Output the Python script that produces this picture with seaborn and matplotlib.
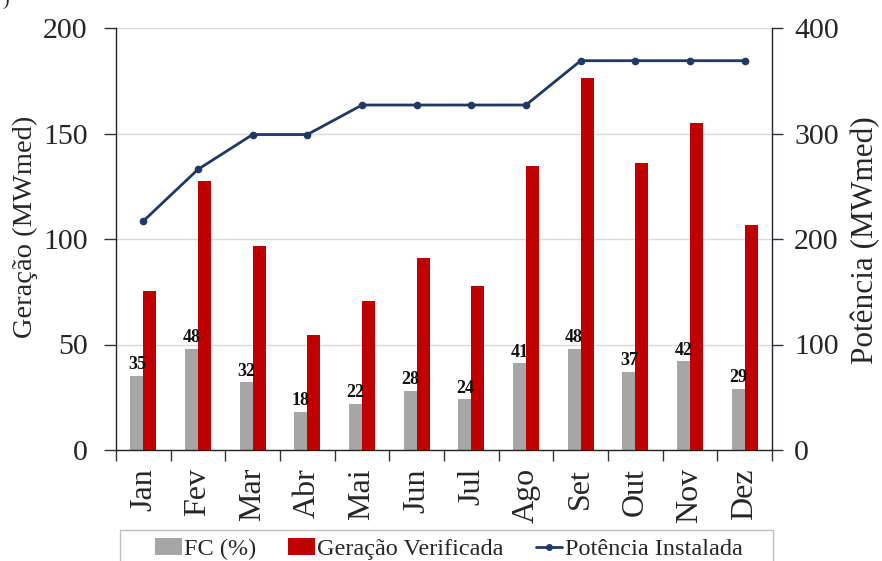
import numpy as np
import pandas as pd
import matplotlib
matplotlib.use("Agg")
import matplotlib.pyplot as plt
from matplotlib.patches import Patch, Rectangle
from matplotlib.lines import Line2D
from matplotlib.ticker import FixedLocator, NullFormatter
import seaborn as sns

meses = ["Jan", "Fev", "Mar", "Abr", "Mai", "Jun", "Jul", "Ago", "Set", "Out", "Nov", "Dez"]
fc = [35, 48, 32, 18, 22, 28, 24, 41, 48, 37, 42, 29]
geracao = [75.5, 127.5, 96.5, 54.5, 70.5, 91.0, 77.5, 134.5, 176.5, 136.0, 155.0, 106.5]
potencia = [217, 266, 299, 299, 327, 327, 327, 327, 369, 369, 369, 369]

serie_fc = "FC (%)"
serie_ger = "Geração Verificada"
serie_pot = "Potência Instalada"

cor_fc = "#A6A6A6"
cor_ger = "#C00000"
cor_pot = "#1F3864"

sns.set_theme(style="white")
plt.rcParams["font.family"] = ["Liberation Serif", "DejaVu Serif"]

df = pd.DataFrame({
    "mes": meses * 2,
    "valor": fc + geracao,
    "serie": [serie_fc] * len(meses) + [serie_ger] * len(meses),
})

W, H = 882, 561
fig = plt.figure(figsize=(W / 100, H / 100), dpi=100)
ax = fig.add_axes([116 / W, 1 - 450 / H, (772 - 116) / W, (450 - 28) / H])

sns.barplot(data=df, x="mes", y="valor", hue="serie", order=meses,
            hue_order=[serie_fc, serie_ger], palette=[cor_fc, cor_ger],
            width=0.47, gap=0, saturation=1, errorbar=None, ax=ax,
            legend=False, linewidth=0)

# rótulos do fator de capacidade sobre as barras cinzas
ax.bar_label(ax.containers[0], labels=[str(v) for v in fc], padding=2,
             fontsize=13, fontweight="bold", color="#111111")

ax.set_ylim(0, 200)
ax.set_xlim(-0.5, len(meses) - 0.5)
ax.set_yticks([0, 50, 100, 150, 200])
ax.yaxis.grid(True, color="#D9D9D9", linewidth=1)
ax.set_axisbelow(True)
ax.set_xlabel("")
ax.set_ylabel("Geração (MWmed)", fontsize=20.5)
ax.yaxis.set_label_coords(-0.119, 0.528)
ax.tick_params(axis="y", labelsize=21.5, length=9, width=1, color="#333333",
               direction="out", left=True, pad=11.5)
ax.tick_params(axis="x", which="major", labelsize=23, length=0, pad=13,
               labelrotation=90)
ax.xaxis.set_minor_locator(FixedLocator(np.arange(-0.5, len(meses), 1)))
ax.xaxis.set_minor_formatter(NullFormatter())
ax.tick_params(axis="x", which="minor", length=8, width=1, color="#333333",
               direction="out", bottom=True)

for s in ["top", "right"]:
    ax.spines[s].set_visible(False)
for s in ["left", "bottom"]:
    ax.spines[s].set_color("#222222")
    ax.spines[s].set_linewidth(1)

ax2 = ax.twinx()
sns.lineplot(x=np.arange(len(meses)), y=potencia, ax=ax2, color=cor_pot,
             linewidth=2, marker="o", markersize=5.5, markeredgewidth=0)
ax2.set_ylim(0, 400)
ax2.set_yticks([0, 100, 200, 300, 400])
ax2.set_ylabel("Potência (MWmed)", fontsize=22.5)
ax2.yaxis.set_label_coords(1.1205, 0.498)
ax2.tick_params(axis="y", labelsize=21.5, length=8, width=1, color="#333333",
                direction="out", right=True, pad=8)
ax2.spines["top"].set_visible(False)
ax2.spines["left"].set_visible(False)
ax2.spines["bottom"].set_visible(False)
ax2.spines["right"].set_color("#222233")
ax2.spines["right"].set_linewidth(1)
ax2.grid(False)

# moldura da legenda, aberta na borda inferior da figura
fig.patches.append(Rectangle((120 / W, -0.02), (773 - 120) / W, 0.02 + (561 - 530) / H,
                             transform=fig.transFigure, facecolor="white",
                             edgecolor="#BFBFBF", linewidth=1))

handles = [
    Patch(facecolor=cor_fc, edgecolor="none"),
    Patch(facecolor=cor_ger, edgecolor="none"),
    Line2D([0], [0], color=cor_pot, linewidth=2, marker="o", markersize=4),
]
leg = fig.legend(handles, [serie_fc, serie_ger, serie_pot], ncol=3,
                 loc="center", bbox_to_anchor=(0.509, 1 - 549 / H),
                 fontsize=17.5, frameon=False, handlelength=1.1,
                 handletextpad=0.1, columnspacing=1.3, borderpad=0.2)

fig.text(0.003, 1.0, ")", fontsize=14, va="center", ha="left")

fig.savefig("out.png", dpi=100)
